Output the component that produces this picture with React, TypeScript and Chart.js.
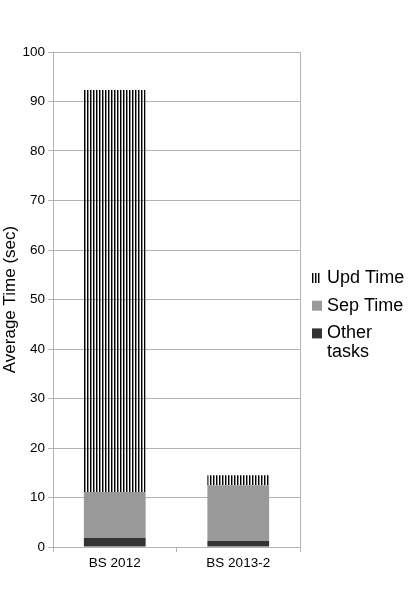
import React, { useEffect, useRef } from "react";
import { Chart, registerables } from "chart.js";

Chart.register(...registerables);

const categories = ["BS 2012", "BS 2013-2"];
const otherTasks = [1.8, 1.2];
const sepTime = [9.3, 11.3];
const updTime = [81.2, 2.0];
const seriesLabels = ["Upd Time", "Sep Time", "Other tasks"];
const yTitle = "Average Time (sec)";

const FONT = '"Liberation Sans", Arial, sans-serif';
const GRID = "#b3b3b3";

function makePattern(ctx: CanvasRenderingContext2D) {
  const c = document.createElement("canvas");
  c.width = 3;
  c.height = 1;
  const p = c.getContext("2d")!;
  p.fillStyle = "#000000";
  p.fillRect(0, 0, 1, 1);
  p.fillStyle = "rgba(0,0,0,0.45)";
  p.fillRect(1, 0, 1, 1);
  return ctx.createPattern(c, "repeat")!;
}

export default function App() {
  const ref = useRef<HTMLCanvasElement | null>(null);

  useEffect(() => {
    const canvas = ref.current!;
    const ctx = canvas.getContext("2d")!;
    const hatch = makePattern(ctx);

    const legendPlugin = {
      id: "customLegend",
      afterDraw(chart: any) {
        const c = chart.ctx as CanvasRenderingContext2D;
        const area = chart.chartArea;
        c.save();
        // right border of plot
        c.strokeStyle = GRID;
        c.lineWidth = 1;
        c.beginPath();
        c.moveTo(Math.round(area.right) + 0.5, area.top);
        c.lineTo(Math.round(area.right) + 0.5, area.bottom + 5);
        c.stroke();

        // legend
        const fills: any[] = [hatch, "#999999", "#333333"];
        const widths = [8, 10, 10];
        c.font = `18px ${FONT}`;
        c.fillStyle = "#000";
        c.textBaseline = "alphabetic";
        c.textAlign = "left";
        const boxX = 312;
        const textX = 327;
        const maxW = 86;
        let baseline = 283;
        seriesLabels.forEach((label, i) => {
          c.fillStyle = fills[i];
          c.fillRect(boxX, baseline - 10, widths[i], 10);
          c.fillStyle = "#000";
          const words = label.split(" ");
          const lines: string[] = [];
          let cur = "";
          words.forEach((w) => {
            const t = cur ? cur + " " + w : w;
            if (c.measureText(t).width > maxW && cur) {
              lines.push(cur);
              cur = w;
            } else cur = t;
          });
          if (cur) lines.push(cur);
          lines.forEach((ln, j) => {
            c.fillText(ln, textX, baseline + j * 18.5);
          });
          baseline += 27.7 + (lines.length - 1) * 18.5;
        });
        c.restore();
      },
    };

    const chart = new Chart(ctx, {
      type: "bar",
      data: {
        labels: categories,
        datasets: [
          {
            label: seriesLabels[2],
            data: otherTasks,
            backgroundColor: "#333333",
            borderWidth: 0,
          },
          {
            label: seriesLabels[1],
            data: sepTime,
            backgroundColor: "#999999",
            borderWidth: 0,
          },
          {
            label: seriesLabels[0],
            data: updTime,
            backgroundColor: hatch as any,
            borderWidth: 0,
          },
        ],
      },
      options: {
        responsive: false,
        animation: false,
        layout: { padding: { left: 0, top: 52, right: 118, bottom: 0 } },
        datasets: {
          bar: { barPercentage: 0.5, categoryPercentage: 1 },
        },
        plugins: {
          legend: { display: false },
          tooltip: { enabled: false },
          title: { display: false },
        },
        scales: {
          x: {
            stacked: true,
            grid: {
              offset: true,
              drawOnChartArea: false,
              drawTicks: true,
              tickLength: 5,
              color: GRID,
            },
            border: { display: true, color: GRID },
            ticks: {
              color: "#000",
              font: { family: FONT, size: 13.5 },
              padding: 3,
              maxRotation: 0,
            },
            afterFit(scale: any) {
              scale.height = 49;
            },
          },
          y: {
            stacked: true,
            min: 0,
            max: 100,
            grid: {
              color: GRID,
              tickLength: 5,
            },
            border: { display: true, color: GRID },
            ticks: {
              stepSize: 10,
              color: "#000",
              font: { family: FONT, size: 13.5 },
              padding: 3,
            },
            title: {
              display: true,
              text: yTitle,
              color: "#000",
              font: { family: FONT, size: 17 },
              padding: { top: 0, bottom: 0 },
            },
            afterFit(scale: any) {
              scale.width = 53;
            },
          },
        },
      },
      plugins: [legendPlugin],
    });

    return () => chart.destroy();
  }, []);

  return (
    <div style={{ position: "absolute", left: 0, top: 0, width: 418, height: 596, background: "#fff" }}>
      <canvas ref={ref} width={418} height={596} style={{ display: "block" }} />
    </div>
  );
}
